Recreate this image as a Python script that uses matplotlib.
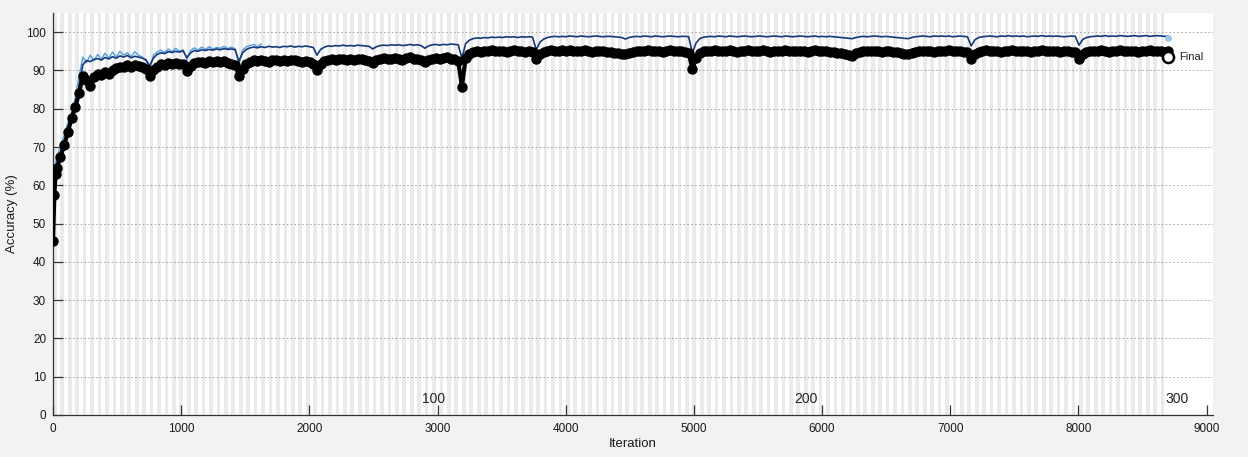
import numpy as np
import matplotlib
matplotlib.use('Agg')
import matplotlib.pyplot as plt

plt.rcParams['font.family'] = ['Liberation Sans', 'DejaVu Sans']

# Training progress: 300 epochs, 29 iterations per epoch
iters_per_epoch = 29
n_epochs = 300

# Smoothed training accuracy (%) at the end of each epoch (epoch 0..300)
train_acc = [
    62.0, 65.5, 68.6, 71.5, 74.5, 77.5, 81.0, 86.0, 91.5, 92.6,
    92.3, 92.9, 93.1, 92.7, 93.4, 93.0, 93.6, 93.2, 93.8, 93.5,
    93.9, 93.3, 93.7, 93.5, 93.2, 92.8, 91.2, 93.2, 94.2, 94.6,
    94.4, 94.9, 94.7, 95.0, 94.8, 95.1, 93.4, 94.6, 95.2, 95.0,
    95.4, 95.2, 95.5, 95.3, 95.6, 95.4, 95.7, 95.5, 95.6, 95.4,
    92.4, 94.6, 95.5, 95.9, 96.1, 95.9, 96.2, 96.0, 96.3, 96.1,
    96.2, 96.0, 96.3, 96.2, 96.4, 96.1, 96.3, 96.2, 96.4, 96.2,
    96.0, 94.0, 95.5, 96.1, 96.4, 96.3, 96.5, 96.4, 96.6, 96.4,
    96.5, 96.4, 96.6, 96.5, 96.4, 96.3, 95.6, 96.2, 96.5, 96.6,
    96.5, 96.7, 96.6, 96.7, 96.5, 96.6, 96.8, 96.6, 96.7, 96.5,
    95.8, 96.4, 96.7, 96.8, 96.6, 96.8, 96.7, 96.9, 96.8, 96.7,
    93.2, 97.0, 97.9, 98.3, 98.5, 98.4, 98.6, 98.5, 98.7, 98.6,
    98.7, 98.6, 98.8, 98.7, 98.8, 98.6, 98.8, 98.7, 98.8, 98.7,
    95.4, 97.4, 98.2, 98.6, 98.8, 98.9, 98.8, 98.9, 98.8, 99.0,
    98.9, 98.8, 99.0, 98.9, 98.8, 98.9, 99.0, 98.9, 98.8, 98.9,
    98.9, 98.8, 98.7, 98.6, 98.2, 98.6, 98.8, 98.9, 98.8, 99.0,
    98.9, 98.8, 99.0, 98.9, 98.8, 98.9, 99.0, 98.9, 98.8, 98.9,
    98.9, 98.8, 94.6, 97.2, 98.3, 98.7, 98.8, 98.9, 98.8, 99.0,
    98.9, 98.8, 99.0, 98.9, 98.8, 98.9, 99.0, 98.9, 98.8, 98.9,
    99.0, 98.9, 98.8, 98.9, 99.0, 98.9, 98.8, 99.0, 98.9, 98.8,
    98.9, 99.0, 98.9, 98.8, 98.9, 99.0, 98.8, 98.9, 98.8, 98.9,
    98.8, 98.7, 98.6, 98.5, 98.4, 98.3, 98.6, 98.8, 98.9, 98.8,
    98.9, 99.0, 98.9, 98.8, 98.9, 98.8, 98.7, 98.6, 98.5, 98.4,
    98.3, 98.6, 98.8, 98.9, 99.0, 98.9, 98.8, 99.0, 98.9, 99.0,
    98.9, 99.0, 98.8, 98.9, 99.0, 98.9, 98.8, 96.4, 98.0, 98.6,
    98.8, 98.9, 99.0, 98.9, 98.8, 99.0, 98.9, 99.1, 98.9, 99.0,
    98.9, 99.0, 98.8, 98.9, 99.0, 98.9, 99.1, 98.9, 99.0, 98.9,
    99.0, 98.9, 98.8, 98.9, 99.0, 98.9, 96.6, 98.1, 98.6, 98.8,
    98.9, 99.0, 98.9, 99.1, 98.9, 99.0, 98.9, 99.1, 99.0, 98.9,
    99.0, 99.1, 98.9, 99.0, 99.1, 98.9, 99.0, 99.1, 99.0, 98.9,
    99.0,
]

# Raw (unsmoothed) training accuracy for the first epochs
raw_train_acc = [
    63.5, 67.0, 70.5, 73.0, 76.5, 79.0, 83.0, 88.5, 93.5, 92.0,
    94.0, 92.5, 94.2, 93.0, 94.5, 93.2, 94.8, 93.5, 95.0, 94.0,
    94.6, 93.6, 94.9, 94.0, 93.5, 92.5, 90.5, 94.0, 94.8, 95.3,
    94.7, 95.6, 94.9, 95.8, 95.0, 95.4, 92.8, 95.2, 95.9, 95.3,
    96.1, 95.5, 96.2, 95.6, 96.0, 95.8, 96.3, 95.7, 96.1, 95.6,
    91.8, 95.3, 96.2, 96.5, 96.8, 96.2, 96.9,
]

# Validation accuracy (%): first checks inside epoch 1, then each epoch end
val_early_iters = [0, 10, 20]
val_early_acc = [45.5, 57.5, 63.0]
val_acc = [
    64.5, 67.5, 70.5, 74.0, 77.5, 80.5, 84.0, 88.5, 87.5,
    86.0, 88.3, 89.0, 88.7, 89.5, 89.2, 90.0, 90.6, 91.0, 90.8,
    91.3, 91.0, 91.5, 91.2, 90.8, 90.4, 88.6, 90.2, 91.0, 91.6,
    91.4, 91.9, 91.7, 92.0, 91.8, 91.6, 89.8, 91.2, 91.9, 92.1,
    92.3, 92.0, 92.4, 92.2, 92.5, 92.1, 92.4, 92.0, 91.8, 91.5,
    88.6, 90.4, 91.8, 92.3, 92.6, 92.4, 92.7, 92.5, 92.3, 92.6,
    92.8, 92.5, 92.7, 92.4, 92.6, 92.8, 92.5, 92.3, 92.4, 92.1,
    91.8, 90.2, 91.6, 92.4, 92.8, 93.0, 92.7, 92.9, 93.1, 92.8,
    93.0, 92.7, 92.9, 93.1, 92.8, 92.5, 91.9, 92.6, 93.0, 93.2,
    92.9, 93.1, 93.3, 93.0, 92.8, 93.2, 93.4, 93.1, 93.0, 92.7,
    92.2, 92.8, 93.1, 93.3, 93.0, 93.2, 93.4, 93.1, 92.9, 92.4,
    85.8, 93.2, 94.4, 94.8, 95.1, 94.9, 95.2, 95.0, 95.3, 95.1,
    95.0, 95.2, 94.9, 95.1, 95.3, 95.0, 95.2, 94.9, 95.1, 94.8,
    93.0, 94.3, 94.9, 95.1, 95.3, 95.0, 95.2, 95.4, 95.1, 95.3,
    95.0, 95.2, 95.1, 95.3, 95.0, 94.9, 95.2, 95.0, 95.1, 94.8,
    94.7, 94.6, 94.5, 94.4, 94.3, 94.6, 94.9, 95.1, 95.0, 95.2,
    95.3, 95.1, 95.0, 95.2, 94.9, 95.1, 95.3, 95.0, 95.2, 95.1,
    94.9, 94.6, 90.3, 93.2, 94.6, 95.0, 95.2, 95.1, 95.3, 95.0,
    95.2, 95.0, 95.3, 95.1, 94.9, 95.2, 95.0, 95.3, 95.1, 95.2,
    95.0, 95.3, 95.1, 94.9, 95.2, 95.0, 95.1, 95.3, 95.0, 95.2,
    95.1, 95.0, 95.2, 94.9, 95.1, 95.3, 95.0, 95.2, 95.1, 94.9,
    94.8, 94.6, 94.5, 94.3, 94.1, 93.9, 94.5, 94.9, 95.1, 95.0,
    95.2, 95.0, 95.1, 94.9, 95.2, 95.0, 94.8, 94.7, 94.5, 94.4,
    94.3, 94.6, 94.9, 95.1, 95.0, 95.2, 95.1, 94.9, 95.2, 95.0,
    95.1, 95.3, 95.0, 95.2, 95.1, 94.9, 94.7, 93.0, 94.4, 94.9,
    95.1, 95.3, 95.0, 95.2, 95.1, 94.9, 95.2, 95.0, 95.3, 95.1,
    95.0, 95.2, 95.1, 94.9, 95.2, 95.0, 95.3, 95.1, 95.0, 95.2,
    95.1, 94.9, 95.2, 95.0, 94.9, 94.8, 93.0, 94.4, 94.9, 95.1,
    95.2, 95.0, 95.3, 95.1, 94.9, 95.2, 95.0, 95.3, 95.1, 95.0,
    95.2, 95.1, 94.9, 95.2, 95.0, 95.3, 95.1, 95.0, 95.2, 94.9,
    95.0,
]
final_val_acc = 93.4
epoch_labels = [100, 200, 300]

fig = plt.figure(figsize=(12.48, 4.57), dpi=100, facecolor='#f2f2f2')
ax = fig.add_axes([0.0425, 0.092, 0.9295, 0.8795])
ax.set_facecolor('white')

# alternating epoch shading
for e in range(0, n_epochs, 2):
    ax.axvspan(e * iters_per_epoch, (e + 1) * iters_per_epoch,
               color='#eaeaea', lw=0, zorder=0)

ax.set_yticks(range(0, 101, 10))
ax.grid(axis='y', color='#a0a0a0', linestyle=(0, (1.5, 2.5)), linewidth=0.7, zorder=1)

train_x = np.arange(len(train_acc)) * iters_per_epoch
raw_x = np.arange(len(raw_train_acc)) * iters_per_epoch
val_x = list(val_early_iters) + list(np.arange(1, len(val_acc) + 1) * iters_per_epoch)
val_y = list(val_early_acc) + list(val_acc)

ax.plot(raw_x, raw_train_acc, color='#4f9fe0', lw=1.0, zorder=2)
ax.plot(train_x, train_acc, color='#12397a', lw=1.2, zorder=3)
ax.plot(train_x[-1], train_acc[-1] - 0.5, 'o', color='#9cc8e8', ms=4, zorder=3)
ax.plot(val_x, val_y, color='black', lw=3.0, marker='o', ms=6.5, zorder=4)

# final validation marker
ax.plot(n_epochs * iters_per_epoch, final_val_acc, 'o', ms=8,
        mfc='white', mec='black', mew=1.8, zorder=5)
ax.text(n_epochs * iters_per_epoch + 85, final_val_acc, 'Final',
        fontsize=8, va='center', ha='left', color='#222222')

# epoch numbers
for ep in epoch_labels:
    ax.text(ep * iters_per_epoch - 20, 3.2, str(ep), fontsize=10,
            ha='left', va='baseline', color='#222222')

ax.set_xlim(0, 9050)
ax.set_ylim(0, 105)
ax.set_xticks(range(0, 9001, 1000))
for s in ['top', 'right']:
    ax.spines[s].set_visible(False)
for s in ['left', 'bottom']:
    ax.spines[s].set_color('#333333')
    ax.spines[s].set_linewidth(0.9)
ax.tick_params(direction='in', length=7, width=0.9, colors='#333333',
               labelsize=8.5, labelcolor='#1a1a1a')
ax.tick_params(axis='x', pad=6)
ax.tick_params(axis='y', pad=5)
ax.set_xlabel('Iteration', fontsize=9.5, color='#1a1a1a', labelpad=2)
ax.set_ylabel('Accuracy (%)', fontsize=9.5, color='#1a1a1a', labelpad=6)

fig.savefig('out.png', dpi=100, facecolor=fig.get_facecolor())
